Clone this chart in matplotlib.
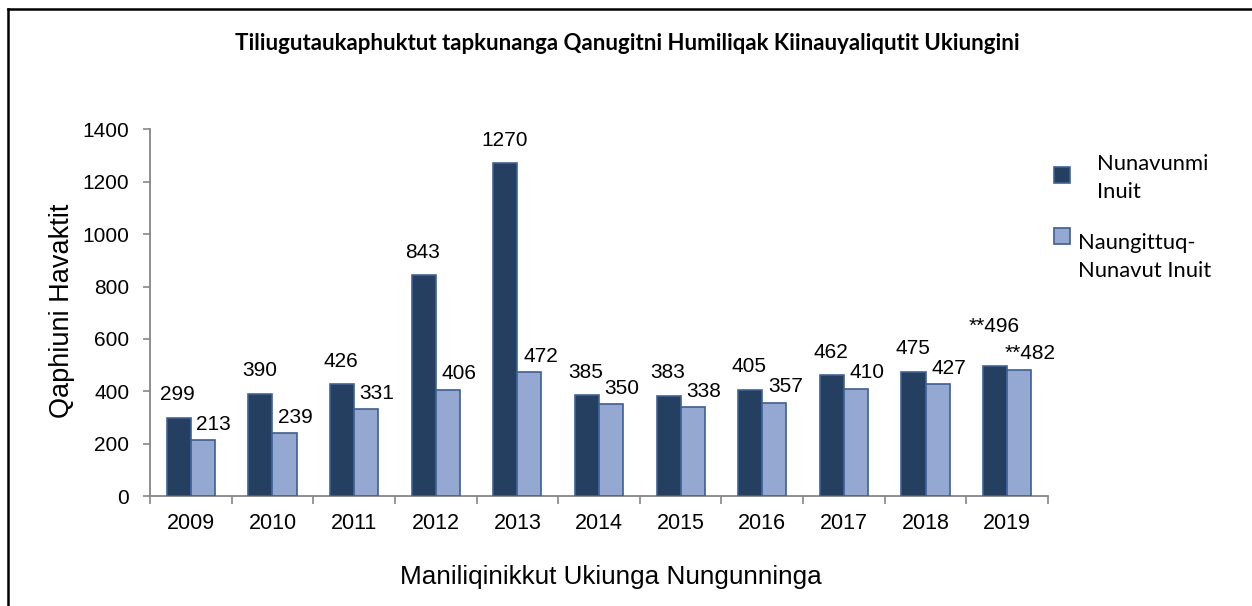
import numpy as np
import matplotlib
matplotlib.use('Agg')
import matplotlib.pyplot as plt
from matplotlib.patches import Rectangle
from matplotlib.lines import Line2D

years = ['2009', '2010', '2011', '2012', '2013', '2014', '2015', '2016', '2017', '2018', '2019']
nunavut_inuit = [299, 390, 426, 843, 1270, 385, 383, 405, 462, 475, 496]
outside_inuit = [213, 239, 331, 406, 472, 350, 338, 357, 410, 427, 482]
nunavut_lbls = ['299', '390', '426', '843', '1270', '385', '383', '405', '462', '475', '**496']
outside_lbls = ['213', '239', '331', '406', '472', '350', '338', '357', '410', '427', '**482']

title = 'Tiliugutaukaphuktut tapkunanga Qanugitni Humiliqak Kiinauyaliqutit Ukiungini'
ylabel = 'Qaphiuni Havaktit'
xlabel = 'Maniliqinikkut Ukiunga Nungunninga'
legend_names = ['Nunavunmi\nInuit', 'Naungittuq-\nNunavut Inuit']

dark = '#253F60'
dark_edge = '#3F6397'
light = '#95A8D1'
light_edge = '#3C5F95'
grey = '#868686'

W, H = 1252, 606
fig = plt.figure(figsize=(W / 100, H / 100), dpi=100)
ax = fig.add_axes([150 / W, 1 - 496 / H, 898 / W, (496 - 129.4) / H])

x = np.arange(len(years))
bw = 0.295
ax.bar(x - bw / 2, nunavut_inuit, bw, color=dark, edgecolor=dark_edge, linewidth=1.2, zorder=3)
ax.bar(x + bw / 2, outside_inuit, bw, color=light, edgecolor=light_edge, linewidth=1.2, zorder=3)

lab_font = dict(family='Liberation Sans', size=15, color='black')
for i in range(len(years)):
    up = 23 if not nunavut_lbls[i].startswith('**') else 40
    ax.annotate(nunavut_lbls[i], (x[i] - bw / 2, nunavut_inuit[i]), xytext=(-1, up),
                textcoords='offset pixels', ha='center', va='center', **lab_font)
    ax.annotate(outside_lbls[i], (x[i] + bw / 2, outside_inuit[i]), xytext=(11, 16),
                textcoords='offset pixels', ha='center', va='center', **lab_font)

ax.set_xlim(-0.5, len(years) - 0.5)
ax.set_ylim(0, 1400)
ax.set_yticks(np.arange(0, 1401, 200))
ax.set_yticklabels([str(v) for v in range(0, 1401, 200)], family='Liberation Sans', fontsize=15)
ax.set_xticks(np.arange(-0.5, len(years)), labels=[])
ax.set_xticks(x, labels=years, minor=True, family='Liberation Sans', fontsize=15.5)
ax.tick_params(axis='x', which='major', length=6, width=1.2, color=grey, direction='out')
ax.tick_params(axis='x', which='minor', length=0, pad=12)
ax.tick_params(axis='y', length=5, width=1.2, color=grey, pad=10)
for s in ['top', 'right']:
    ax.spines[s].set_visible(False)
for s in ['left', 'bottom']:
    ax.spines[s].set_color(grey)
    ax.spines[s].set_linewidth(1.3)

fig.text(62 / W, 1 - 311 / H, ylabel, rotation=90, ha='center', va='center',
         family='Liberation Sans', fontsize=19.5)
fig.text(611 / W, 1 - 577 / H, xlabel, ha='center', va='center',
         family='Liberation Sans', fontsize=18.8)
fig.text(627 / W, 1 - 44 / H, title, ha='center', va='center',
         family='Lato', fontweight='bold', fontsize=16)

# legend drawn by hand to keep the odd indent
fig.patches.append(Rectangle((1054 / W, 1 - 183 / H), 16 / W, 16 / H, transform=fig.transFigure,
                             facecolor=dark, edgecolor=dark_edge, linewidth=1.2))
fig.patches.append(Rectangle((1054 / W, 1 - 244 / H), 16 / W, 16 / H, transform=fig.transFigure,
                             facecolor=light, edgecolor=light_edge, linewidth=1.2))
fig.text(1097 / W, 1 - 178 / H, legend_names[0], ha='left', va='center',
         family='Lato', fontsize=15.8, linespacing=1.5)
fig.text(1078 / W, 1 - 257 / H, legend_names[1], ha='left', va='center',
         family='Lato', fontsize=15.8, linespacing=1.5)

# frame around the chart (only top and left edges are visible)
fig.lines.append(Line2D([8 / W, 8 / W], [0, 1 - 9 / H], transform=fig.transFigure, color='black', linewidth=1.8))
fig.lines.append(Line2D([8 / W, 1], [1 - 9 / H, 1 - 9 / H], transform=fig.transFigure, color='black', linewidth=1.8))

fig.savefig('out.png', dpi=100)
